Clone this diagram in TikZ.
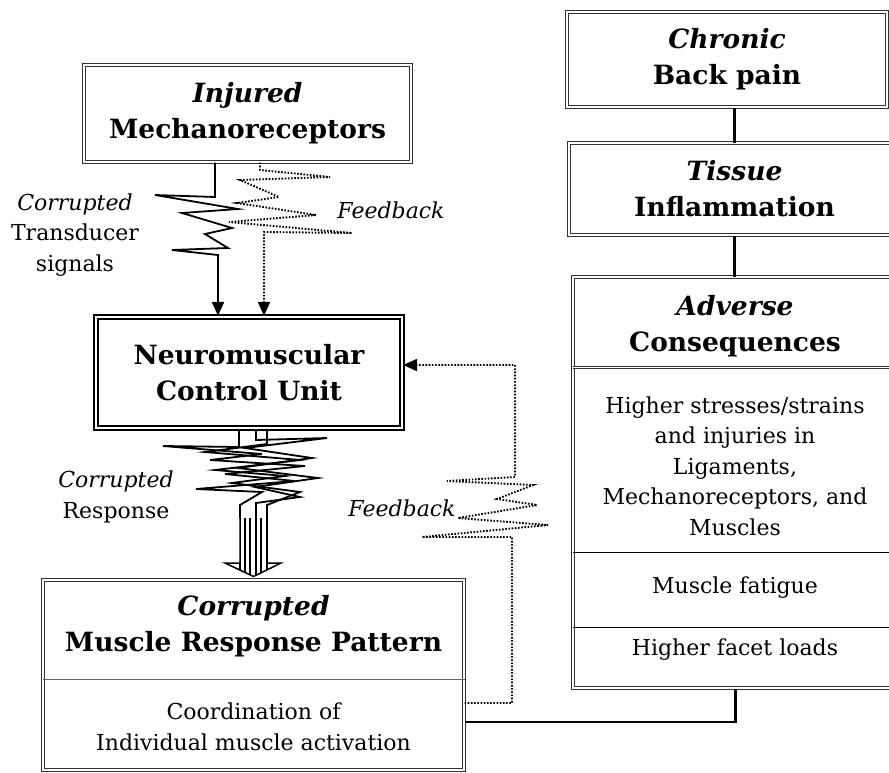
\documentclass[tikz,border=0pt]{standalone}
\usepackage{fontspec}
\setmainfont{DejaVu Serif}
\usetikzlibrary{arrows.meta,positioning,calc}

\newcommand{\ttlfont}{\fontsize{26.5}{36}\selectfont\bfseries}
\newcommand{\bdyfont}{\fontsize{22}{30.5}\selectfont}

\begin{document}
\begin{tikzpicture}[
    x=1pt, y=-1pt,
    box/.style={draw=black!80, double=white, double distance=1.6pt, line width=1pt, inner sep=0pt},
    heavybox/.style={draw=black, double=white, double distance=1.8pt, line width=2.2pt, inner sep=0pt},
    title/.style={font=\ttlfont, align=center},
    body/.style={font=\bdyfont, align=center},
    link/.style={line width=2.4pt},
    sig/.style={line width=1.8pt},
    fb/.style={line width=1.9pt, dash pattern=on 1.6pt off 1.6pt},
    divider/.style={line width=1.3pt},
    >={Triangle[length=14pt,width=12pt]}
]
    \useasboundingbox (0,0) rectangle (889,772);
    \clip (0,0) rectangle (889,772);

    % left column
    \node[box, minimum width=327pt, minimum height=97pt, title] (inj) at (247.5,113.5) {\textit{Injured}\\Mechanoreceptors};
    \node[heavybox, minimum width=306pt, minimum height=111pt, title] (ncu) at (249,372.5) {Neuromuscular\\Control Unit};
    \node[box, minimum width=421pt, minimum height=190pt] (cmr) at (253.5,675) {};
    \node[title] (cmrt) at (253.5,626.5) {\textit{Corrupted}\\Muscle Response Pattern};
    \node[body] (cmrb) at (253.5,727) {Coordination of\\Individual muscle activation};
    \draw[draw=black!60, divider] ([yshift=-100pt]cmr.north west) -- ([yshift=-100pt]cmr.north east);

    % right column
    \node[box, minimum width=320pt, minimum height=95pt, title] (chr) at (727,59.5) {\textit{Chronic}\\Back pain};
    \node[box, minimum width=331pt, minimum height=92pt, title] (tis) at (734.5,189) {\textit{Tissue}\\Inflammation};
    \node[box, minimum width=325pt, minimum height=411pt] (adv) at (735.5,482.5) {};
    \node[title] (advt) at (735,326.5) {\textit{Adverse}\\Consequences};
    \node[body] (adv1) at (735,466) {Higher stresses/strains\\and injuries in\\Ligaments,\\Mechanoreceptors, and\\Muscles};
    \node[body] (adv2) at (735,588) {Muscle fatigue};
    \node[body] (adv3) at (735,650) {Higher facet loads};
    \draw[box] ([yshift=-91pt]adv.north west) -- ([yshift=-91pt]adv.north east);
    \draw[divider] ([yshift=-276pt]adv.north west) -- ([yshift=-276pt]adv.north east);
    \draw[divider] ([yshift=-351pt]adv.north west) -- ([yshift=-351pt]adv.north east);

    \draw[link] (tis.north |- chr.south) -- (tis.north);
    \draw[link] (tis.south) -- (tis.south |- adv.north);
    \draw[link] (adv.south) |- ([yshift=-47pt]cmr.east);

    % labels
    \node[body] (lbl1) at (75,235) {\textit{Corrupted}\\Transducer\\signals};
    \node[body] (lbl2) at (391,210) {\textit{Feedback}};
    \node[body] (lbl3) at (116,497) {\textit{Corrupted}\\Response};
    \node[body] (lbl4) at (402,508) {\textit{Feedback}};

    % transducer signal and feedback
    \draw[sig,->] ([xshift=-32.5pt]inj.south) -- (215,197) -- (155,195) -- (238,209) -- (182,213) -- (232,228) -- (205,234) -- (228,248) -- (172,250) -- (218,255) -- ([xshift=-31pt]ncu.north);
    \draw[fb,->] ([xshift=12.5pt]inj.south) -- (260,170) -- (330,177) -- (240,180) -- (279,197) -- (237,203) -- (316,215) -- (229,222) -- (352,233) -- (264,232) -- ([xshift=15pt]ncu.north);

    % response signal
    \draw[sig] ([xshift=-10pt]ncu.south) -- (239,447) -- (163,446) -- (262,454) -- (210,460) -- (305,466) -- (225,474) -- (295,481) -- (196,489) -- (262,492) -- (240,505) -- (240,518);
    \draw[sig] ([xshift=7pt]ncu.south) -- (256,440) -- (327,438) -- (245,448) -- (312,458) -- (238,468) -- (318,478) -- (255,487) -- (300,497) -- (256,503) -- (256,518);
    \draw[sig] ([xshift=18pt]ncu.south) -- (267,444) -- (205,452) -- (300,460) -- (215,470) -- (285,476) -- (232,483) -- (300,492) -- (267,505) -- (267,518);
    \coordinate (tip) at ([yshift=3pt]cmr.north);
    \begin{scope}
        \clip (240,518) -- (240,563) -- (225,563) -- (tip) -- (281,563) -- (267,563) -- (267,518) -- cycle;
        \foreach \sx in {240,245,250,256,261,267}
            \draw[line width=1.3pt] (\sx,518) -- (\sx,580);
    \end{scope}
    \draw[line width=1.5pt, line join=miter] (240,518) -- (240,563) -- (225,563) -- (tip) -- (281,563) -- (267,563) -- (267,518);

    % muscle feedback
    \draw[fb,->] ([yshift=-28pt]cmr.east) -- (512,703) -- (512,537) -- (422,537) -- (548,525) -- (458,518) -- (537,505) -- (497,499) -- (533,485) -- (447,481) -- (515,477) -- (515,365) -- ([yshift=7.5pt]ncu.east);
\end{tikzpicture}
\end{document}
